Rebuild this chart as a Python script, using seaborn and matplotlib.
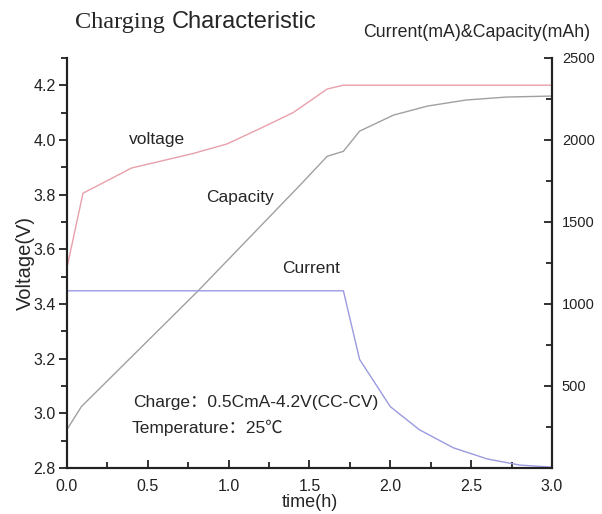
import numpy as np
import pandas as pd
import matplotlib
matplotlib.use("Agg")
import matplotlib.pyplot as plt
import seaborn as sns
from matplotlib.ticker import MultipleLocator

# valores
t_volt = [0.0, 0.1, 0.28, 0.40, 0.78, 0.99, 1.19, 1.40, 1.61, 1.71, 3.0]
volt = [3.53, 3.805, 3.86, 3.897, 3.95, 3.985, 4.04, 4.10, 4.186, 4.20, 4.20]

t_cap = [0.0, 0.09, 0.81, 0.90, 1.44, 1.61, 1.71, 1.81, 2.02, 2.23, 2.47, 2.72, 3.0]
cap = [233, 374, 1078, 1170, 1722, 1900, 1930, 2053, 2151, 2206, 2243, 2261, 2267]

t_cur = [0.0, 1.71, 1.81, 2.0, 2.18, 2.39, 2.60, 2.80, 3.0]
cur = [1080, 1080, 662, 374, 233, 123, 55, 18, 5]

sns.set_style("white")
plt.rcParams['font.family'] = ['Liberation Sans', 'Noto Sans CJK SC', 'DejaVu Sans']

fig = plt.figure(figsize=(6.02, 5.14), dpi=100)
ax = fig.add_axes([0.111, 0.0895, 0.806, 0.798])
ax2 = ax.twinx()

sns.lineplot(x=t_volt, y=volt, ax=ax, color='#e8a0aa', lw=1)
sns.lineplot(x=t_cap, y=cap, ax=ax2, color='#a0a0a0', lw=1)
sns.lineplot(x=t_cur, y=cur, ax=ax2, color='#9a9ae0', lw=1)

ax.set_xlim(0, 3.0)
ax.set_ylim(2.8, 4.3)
ax2.set_ylim(0, 2500)

ax.xaxis.set_major_locator(MultipleLocator(0.5))
ax.xaxis.set_minor_locator(MultipleLocator(0.25))
ax.yaxis.set_major_locator(MultipleLocator(0.2))
ax.yaxis.set_minor_locator(MultipleLocator(0.1))
ax2.yaxis.set_minor_locator(MultipleLocator(250))
ax2.set_yticks([500, 1000, 1500, 2000, 2500])

for a in (ax, ax2):
    a.spines['top'].set_visible(False)
    for s in a.spines.values():
        s.set_linewidth(1.5)
        s.set_color('#222222')

ax.tick_params(axis='y', which='both', direction='out', left=True, labelsize=11.5, colors='#222222', width=1.3, pad=2)
ax.tick_params(axis='y', which='major', length=6)
ax.tick_params(axis='y', which='minor', length=4)
ax.tick_params(axis='x', which='both', direction='in', bottom=True, labelsize=11.5, colors='#222222', width=1.3, pad=8)
ax.tick_params(axis='x', which='major', length=6)
ax.tick_params(axis='x', which='minor', length=4)
ax2.tick_params(axis='y', which='both', direction='in', right=True, labelsize=10.5, colors='#222222', width=1.3, pad=7)
ax2.tick_params(axis='y', which='major', length=6)
ax2.tick_params(axis='y', which='minor', length=4)

ax.set_xlabel('time(h)', fontsize=13, labelpad=0)
ax.set_ylabel('Voltage(V)', fontsize=14.5, labelpad=-1)
ax2.set_ylabel('')

fig.text(0.124, 0.957, 'Charging', family='Liberation Serif', fontsize=17.5, va='center')
fig.text(0.286, 0.957, 'Characteristic', fontsize=17, va='center')
fig.text(0.981, 0.936, 'Current(mA)&Capacity(mAh)', fontsize=12.8, ha='right', va='center')

ax.text(0.56, 4.0, 'voltage', fontsize=12.5, ha='center', va='center')
ax.text(1.07, 3.79, 'Capacity', fontsize=12.5, ha='center', va='center')
ax.text(1.51, 3.53, 'Current', fontsize=12.5, ha='center', va='center')
ax.text(0.41, 3.04, 'Charge：0.5CmA-4.2V(CC-CV)', fontsize=12.5, va='center')
ax.text(0.40, 2.946, 'Temperature：25℃', fontsize=12.5, va='center')

plt.savefig('out.png', dpi=100)
